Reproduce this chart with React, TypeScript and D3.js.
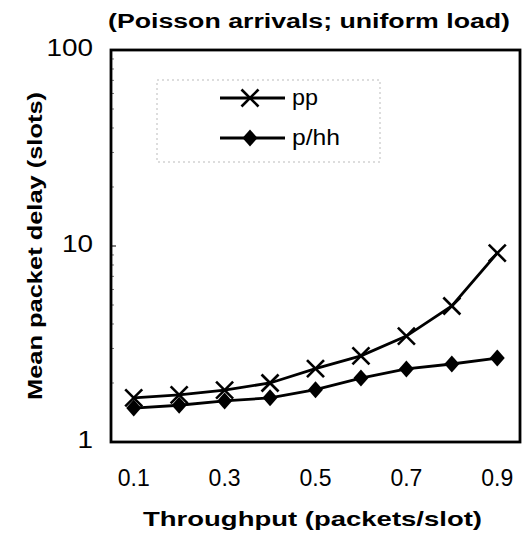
import React from "react";
import * as d3 from "d3";

const W = 523;
const H = 548;

const title = "(Poisson arrivals; uniform load)";
const xTitle = "Throughput (packets/slot)";
const yTitle = "Mean packet delay (slots)";

const throughput = ["0.1", "0.2", "0.3", "0.4", "0.5", "0.6", "0.7", "0.8", "0.9"];
const xTickLabels = ["0.1", "0.3", "0.5", "0.7", "0.9"];
const yTickValues = [1, 10, 100];

const ppDelay = [1.68, 1.74, 1.84, 2.0, 2.37, 2.75, 3.47, 4.94, 9.2];
const phhDelay = [1.49, 1.54, 1.62, 1.68, 1.85, 2.12, 2.36, 2.5, 2.68];

const FONT = "'Liberation Sans', Arial, Helvetica, sans-serif";

const left = 111;
const right = 520;
const top = 50;
const bottom = 442;

const XMark = ({ x, y }: { x: number; y: number }) => {
  const s = 8.5;
  return (
    <g stroke="#000" strokeWidth={2.6}>
      <line x1={x - s} y1={y - s} x2={x + s} y2={y + s} />
      <line x1={x - s} y1={y + s} x2={x + s} y2={y - s} />
    </g>
  );
};

const Diamond = ({ x, y }: { x: number; y: number }) => (
  <path d={`M${x},${y - 8.5}L${x + 7.5},${y}L${x},${y + 8.5}L${x - 7.5},${y}Z`} fill="#000" />
);

export default function App() {
  const x = d3.scalePoint<string>().domain(throughput).range([left, right]).padding(0.5);
  const y = d3.scaleLog().domain([1, 100]).range([bottom, top]);

  const line = d3
    .line<number>()
    .x((_, i) => x(throughput[i]) as number)
    .y((d) => y(d));

  const minor: number[] = [];
  [1, 10].forEach((dec) => {
    for (let k = 2; k <= 9; k++) minor.push(dec * k);
  });

  const legendX = 220;
  const legendY = [98, 138];

  return (
    <svg
      width={W}
      height={H}
      style={{ position: "absolute", left: 0, top: 0, background: "#fff" }}
      fontFamily={FONT}
    >
      <text x={108} y={28} fontSize={20} fontWeight="bold" textLength={402} lengthAdjust="spacingAndGlyphs">
        {title}
      </text>

      {/* legend box */}
      <rect
        x={157}
        y={80}
        width={223}
        height={82}
        fill="none"
        stroke="#bbb"
        strokeWidth={1}
        strokeDasharray="2,3"
      />
      <line x1={legendX} y1={legendY[0]} x2={legendX + 65} y2={legendY[0]} stroke="#000" strokeWidth={2.8} />
      <XMark x={legendX + 30} y={legendY[0]} />
      <text x={292} y={legendY[0] + 7} fontSize={22} textLength={26} lengthAdjust="spacingAndGlyphs">pp</text>
      <line x1={legendX} y1={legendY[1]} x2={legendX + 65} y2={legendY[1]} stroke="#000" strokeWidth={2.8} />
      <Diamond x={legendX + 30} y={legendY[1]} />
      <text x={292} y={legendY[1] + 7} fontSize={22} textLength={48} lengthAdjust="spacingAndGlyphs">p/hh</text>

      {/* minor ticks */}
      {minor.map((v) => (
        <line key={v} x1={left} x2={left + 3} y1={y(v)} y2={y(v)} stroke="#777" strokeWidth={1} />
      ))}
      {yTickValues.map((v) => (
        <line key={"t" + v} x1={left} x2={left + 5} y1={y(v)} y2={y(v)} stroke="#000" strokeWidth={1} />
      ))}

      {/* series */}
      <path d={line(ppDelay) || ""} fill="none" stroke="#000" strokeWidth={2.8} />
      <path d={line(phhDelay) || ""} fill="none" stroke="#000" strokeWidth={2.8} />
      {ppDelay.map((d, i) => (
        <XMark key={"pp" + i} x={x(throughput[i]) as number} y={y(d)} />
      ))}
      {phhDelay.map((d, i) => (
        <Diamond key={"ph" + i} x={x(throughput[i]) as number} y={y(d)} />
      ))}

      {/* frame */}
      <rect x={left} y={top} width={right - left} height={bottom - top} fill="none" stroke="#000" strokeWidth={2.8} />

      {/* y tick labels */}
      {yTickValues.map((v) => {
        const s = String(v);
        return (
          <text
            key={v}
            x={93 - s.length * 15.5}
            y={y(v) + 6}
            fontSize={23}
            textLength={s.length * 15.5}
            lengthAdjust="spacingAndGlyphs"
          >
            {s}
          </text>
        );
      })}

      {/* x tick labels */}
      {xTickLabels.map((t) => (
        <text key={t} x={x(t) as number} y={486} textAnchor="middle" fontSize={23}>
          {t}
        </text>
      ))}

      <text x={143} y={526} fontSize={21} fontWeight="bold" textLength={339} lengthAdjust="spacingAndGlyphs">
        {xTitle}
      </text>
      <text
        transform={`translate(42, 400) rotate(-90)`}
        fontSize={20}
        fontWeight="bold"
        textLength={308}
        lengthAdjust="spacingAndGlyphs"
      >
        {yTitle}
      </text>
    </svg>
  );
}
